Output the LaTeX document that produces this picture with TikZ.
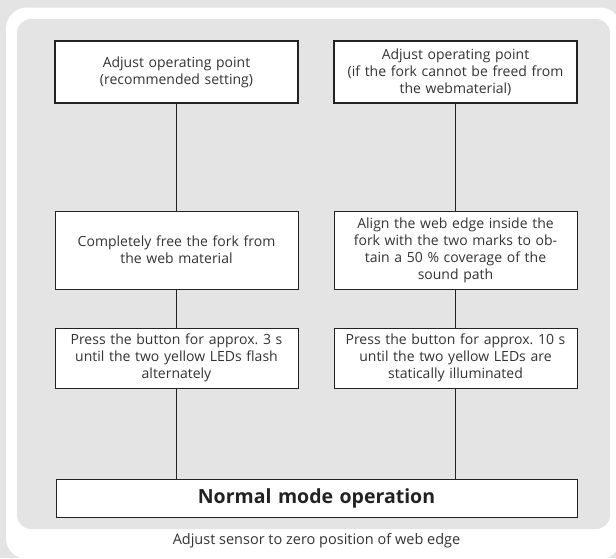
\documentclass[tikz,border=0pt]{standalone}
\usepackage{fontspec}
\setmainfont{Open Sans}
\frenchspacing
\definecolor{bggray}{HTML}{E4E4E4}
\definecolor{txtgray}{HTML}{333333}
\definecolor{linegray}{HTML}{222222}
\tikzset{
  flowbox/.style={draw=linegray, line width=1pt, fill=white, minimum width=243pt,
    text width=238pt, align=center, inner sep=0pt, text=txtgray,
    font=\fontsize{14}{17}\selectfont},
  thickbox/.style={flowbox, line width=2pt},
  conn/.style={draw=linegray, line width=0.9pt},
}
\begin{document}
\begin{tikzpicture}[x=1pt,y=-1pt]
\useasboundingbox (0,0) rectangle (616,558);
\fill[bggray] (0,0) rectangle (616,558);
\fill[white, rounded corners=21pt] (6,7.5) rectangle (621,559);
\fill[bggray, rounded corners=14pt] (17,19) rectangle (610,529);

\node[thickbox, minimum height=62pt] (a1) at (176.5,72) {Adjust operating point\\(recommended setting)};
\node[thickbox, minimum height=62pt] (b1) at (455.5,72) {Adjust operating point\\(if the fork cannot be freed from\\the webmaterial)};
\node[flowbox, minimum height=78pt] (a2) at (176.5,250) {Completely free the fork from\\the web material};
\node[flowbox, minimum height=78pt] (b2) at (455.5,250) {Align the web edge inside the\\fork with the two marks to ob-\\tain a 50 \% coverage of the\\sound path};
\node[flowbox, minimum height=60pt] (a3) at (176.5,358) {Press the button for approx. 3 s\\until the two yellow LEDs flash\\alternately};
\node[flowbox, minimum height=60pt] (b3) at (455.5,358) {Press the button for approx. 10 s\\until the two yellow LEDs are\\statically illuminated};
\node[flowbox, minimum width=521pt, text width=510pt, minimum height=38pt,
  font=\fontsize{19.5}{22}\selectfont\bfseries, text=linegray] (n) at (316.5,498) {Normal mode operation};
\node[text=txtgray, font=\fontsize{14.5}{17}\selectfont, inner sep=0pt] (cap) at (316.5,541) {Adjust sensor to zero position of web edge};

\draw[conn] (a1) -- (a2);
\draw[conn] (a2) -- (a3);
\draw[conn] (b1) -- (b2);
\draw[conn] (b2) -- (b3);
\draw[conn] (a3.south) -- (a3.south |- n.north);
\draw[conn] (b3.south) -- (b3.south |- n.north);
\end{tikzpicture}
\end{document}
